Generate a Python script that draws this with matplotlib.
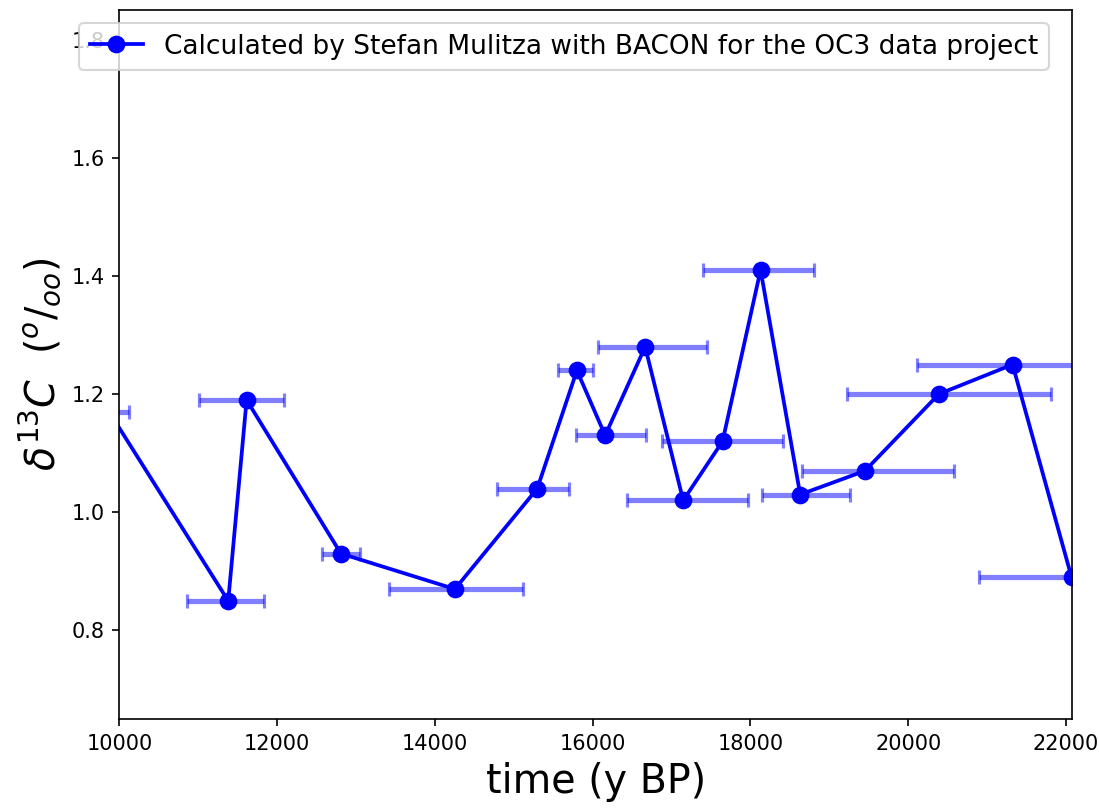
import numpy as np
import matplotlib
matplotlib.use('Agg')
import matplotlib.pyplot as plt

# age (y BP) and d13C values of the samples
age = [9870, 11380, 11613, 12809, 14253, 15297, 15800, 16158, 16665,
       17147, 17646, 18128, 18630, 19450, 20388, 21322, 22070]
d13c = [1.17, 0.85, 1.19, 0.93, 0.87, 1.04, 1.24, 1.13, 1.28,
        1.02, 1.12, 1.41, 1.03, 1.07, 1.20, 1.25, 0.89]

# age model range (min / max age) for each sample
age_min = [9620, 10861, 11009, 12568, 13413, 14782, 15555, 15791, 16066,
           16437, 16873, 17397, 18144, 18655, 19218, 20105, 20891]
age_max = [10125, 11833, 12090, 13049, 15119, 15702, 15999, 16670, 17447,
           17963, 18414, 18807, 19256, 20574, 21811, 22540, 23250]

age = np.array(age)
d13c = np.array(d13c)
xerr = [age - np.array(age_min), np.array(age_max) - age]

fig = plt.figure(figsize=(1099/150, 808/150), dpi=150)
ax = fig.add_axes([0.1086, 0.1101, 0.8668, 0.8775])

ax.errorbar(age, d13c, xerr=xerr, fmt='none', ecolor='blue', alpha=0.5,
            elinewidth=2.5, capsize=3.5, capthick=1.5)
ax.plot(age, d13c, 'b-o', lw=1.8, markersize=7.5,
        label='Calculated by Stefan Mulitza with BACON for the OC3 data project')

ax.set_xlim(10000, 22075)
ax.set_ylim(0.65, 1.85)
ax.set_xticks(np.arange(10000, 22001, 2000))
ax.set_yticks([0.8, 1.0, 1.2, 1.4, 1.6, 1.8])
ax.set_xlabel('time (y BP)', fontsize=19)
ax.set_ylabel(r'$\delta^{13}C\ \ (^o/_{oo})$', fontsize=19)
ax.legend(loc='upper left', bbox_to_anchor=(-0.0423, 0.9817),
          borderaxespad=0, fontsize=12.7)

plt.savefig('out.png', dpi=150)
